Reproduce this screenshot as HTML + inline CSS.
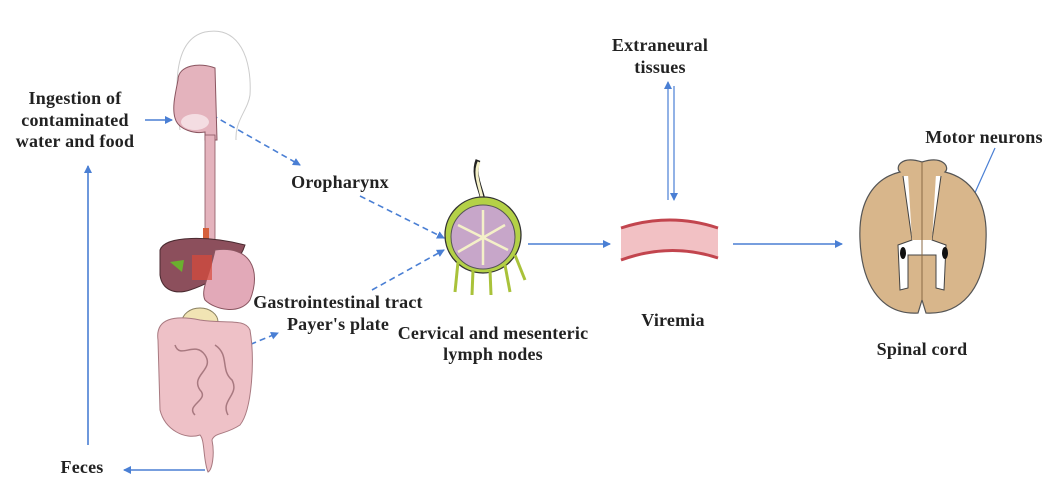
<!DOCTYPE html>
<html><head><meta charset="utf-8"><style>
html,body{margin:0;padding:0;background:#fff;}
svg{display:block}
text{font-family:"Liberation Serif",serif;font-weight:bold;font-size:18px;letter-spacing:0.2px;fill:#222}
</style></head><body>
<svg width="1061" height="494" viewBox="0 0 1061 494" xmlns="http://www.w3.org/2000/svg">
<defs>
<marker id="a" markerWidth="8" markerHeight="8" refX="7" refY="4" orient="auto" markerUnits="userSpaceOnUse"><path d="M0,0 L8,4 L0,8 Z" fill="#4a7fd4"/></marker>
</defs>
<g stroke="#4a7fd4" stroke-width="1.6" fill="none">
<line x1="145" y1="120" x2="172" y2="120" marker-end="url(#a)"/>
<line x1="88" y1="445" x2="88" y2="166" marker-end="url(#a)"/>
<line x1="205" y1="470" x2="124" y2="470" marker-end="url(#a)"/>
<line x1="528" y1="244" x2="610" y2="244" marker-end="url(#a)"/>
<line x1="733" y1="244" x2="842" y2="244" marker-end="url(#a)"/>
<line x1="668" y1="200" x2="668" y2="82" marker-end="url(#a)" stroke-width="1.2"/>
<line x1="674" y1="86" x2="674" y2="200" marker-end="url(#a)" stroke-width="1.2"/>
<line x1="995" y1="148" x2="952" y2="244" marker-end="url(#a)" stroke-width="1.2"/>
<g stroke-dasharray="6,4">
<line x1="212" y1="115" x2="300" y2="165" marker-end="url(#a)"/>
<line x1="360" y1="196" x2="444" y2="238" marker-end="url(#a)"/>
<line x1="372" y1="290" x2="444" y2="250" marker-end="url(#a)"/>
<line x1="232" y1="352" x2="278" y2="333" marker-end="url(#a)"/>
</g>
</g>
<!-- head -->
<path d="M180,130 C175,90 172,40 205,32 C240,25 252,60 250,95 C248,110 235,120 236,140" fill="none" stroke="#ccc" stroke-width="1"/>
<path d="M178,80 C178,65 200,62 215,68 L217,140 L205,140 L205,132 C195,134 178,130 175,118 C172,108 175,95 178,80Z" fill="#e4b3bd" stroke="#8a5560" stroke-width="1"/>
<ellipse cx="195" cy="122" rx="14" ry="8" fill="#f4dde2"/>
<rect x="205" y="135" width="10" height="105" fill="#e4b3bd" stroke="#8a5560" stroke-width="0.8"/>
<rect x="203" y="228" width="6" height="14" fill="#d5603d"/>
<!-- liver -->
<path d="M160,250 C165,235 210,236 245,245 C240,262 220,280 190,290 C175,295 162,290 160,275Z" fill="#8c4f5c" stroke="#4a2a30"/>
<path d="M215,250 C250,245 262,270 250,300 C240,315 215,310 205,300 C200,290 210,275 215,250Z" fill="#e2a9b8" stroke="#8a5560"/>
<rect x="192" y="255" width="20" height="25" fill="#d84a3a" opacity="0.7"/>
<path d="M170,262 l14,-2 l-2,12z" fill="#6ab02e"/>
<ellipse cx="200" cy="322" rx="18" ry="14" fill="#f1e4b4" stroke="#8a8060"/>
<!-- intestines -->
<path d="M158,340 C155,318 175,315 200,320 C225,324 245,318 250,330 C255,360 252,410 240,425 C225,435 215,432 212,440 C215,455 212,470 208,472 C203,460 205,440 200,435 C185,440 165,430 160,410 Z" fill="#eec1c7" stroke="#a87980" stroke-width="1"/>
<path d="M175,345 C180,360 195,340 205,355 C215,370 190,375 200,390 C210,400 185,405 195,415 M215,345 C230,355 220,370 232,380 C240,395 220,400 228,415" fill="none" stroke="#a87980" stroke-width="1.5"/>
<!-- lymph node -->
<path d="M478,160 C470,180 490,200 482,215" stroke="#222" stroke-width="5" fill="none"/>
<path d="M479,162 C471,180 489,200 481,215" stroke="#f4f0c8" stroke-width="3" fill="none"/>
<circle cx="483" cy="235" r="38" fill="#b4d147" stroke="#333" stroke-width="1.3"/>
<circle cx="483" cy="237" r="32" fill="#c7a6c9" stroke="#555"/>
<g stroke="#f4f0c8" stroke-width="2.5"><line x1="483" y1="210" x2="483" y2="265"/><line x1="458" y1="225" x2="508" y2="250"/><line x1="458" y1="252" x2="505" y2="225"/></g>
<g stroke="#a9c23a" stroke-width="3" fill="none"><line x1="458" y1="262" x2="455" y2="292"/><line x1="473" y1="270" x2="472" y2="295"/><line x1="490" y1="270" x2="491" y2="295"/><line x1="505" y1="265" x2="510" y2="292"/><line x1="515" y1="255" x2="525" y2="280"/></g>
<!-- vessel -->
<path d="M621,228 Q670,212 718,228 L718,258 Q670,242 621,260 Z" fill="#f2c1c4"/>
<path d="M621,228 Q670,212 718,228" stroke="#c2454e" stroke-width="3" fill="none"/>
<path d="M621,260 Q670,242 718,258" stroke="#c2454e" stroke-width="3" fill="none"/>
<!-- spinal cord -->
<path d="M922,162 C900,155 895,168 900,172 C875,178 858,200 860,240 C862,290 885,315 918,313 L922,300 L926,313 C960,315 985,290 986,240 C988,200 970,178 945,172 C950,168 944,155 922,162Z" fill="#d8b68b" stroke="#555" stroke-width="1.2"/>
<path d="M903,176 L912,240 L898,245 L900,290 L908,288 L908,255 L936,255 L936,288 L944,290 L946,245 L932,240 L941,176" fill="#fff" stroke="#444" stroke-width="1"/>
<path d="M908,174 L912,240 L932,240 L936,174 Z" fill="#d8b68b"/>
<line x1="922" y1="162" x2="922" y2="300" stroke="#8a6a45"/>
<ellipse cx="903" cy="253" rx="3" ry="6" fill="#111"/><ellipse cx="945" cy="253" rx="3" ry="6" fill="#111"/>
<!-- text -->
<g text-anchor="middle">
<text x="75" y="104">Ingestion of</text>
<text x="75" y="126">contaminated</text>
<text x="75" y="147">water and food</text>
<text x="82" y="473">Feces</text>
<text x="340" y="188">Oropharynx</text>
<text x="338" y="308">Gastrointestinal tract</text>
<text x="338" y="330">Payer's plate</text>
<text x="493" y="339">Cervical and mesenteric</text>
<text x="493" y="360">lymph nodes</text>
<text x="673" y="326">Viremia</text>
<text x="660" y="51">Extraneural</text>
<text x="660" y="73">tissues</text>
<text x="922" y="355">Spinal cord</text>
<text x="984" y="143">Motor neurons</text>
</g>
</svg>
</body></html>
